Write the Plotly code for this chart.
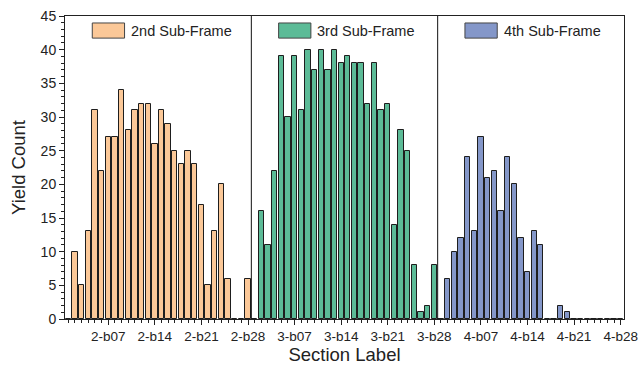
import plotly.graph_objects as go

# Yield counts per section, b01..b28 for each sub-frame
frame_names = ["2nd Sub-Frame", "3rd Sub-Frame", "4th Sub-Frame"]
frame_prefix = ["2", "3", "4"]
yield_2nd = [0, 10, 5, 13, 31, 22, 27, 27, 34, 28, 31, 32, 32, 26, 31, 29, 25, 23, 25, 23,
             17, 5, 13, 20, 6, 0, 0, 6]
yield_3rd = [0, 16, 11, 22, 39, 30, 39, 31, 40, 37, 40, 37, 40, 38, 39, 38, 38, 32, 38, 31,
             32, 14, 28, 25, 8, 1, 2, 8]
yield_4th = [0, 6, 10, 12, 24, 13, 27, 21, 22, 16, 24, 20, 12, 7, 13, 11, 0, 0, 2, 1,
             0, 0, 0, 0, 0, 0, 0, 0]
fill_colors = ["#FBC898", "#5CBB97", "#8497C9"]
labeled_sections = [7, 14, 21, 28]

series = [yield_2nd, yield_3rd, yield_4th]
n_sec = 28

# Section labels along one continuous axis
section_labels = [f"{p}-b{i:02d}" for p in frame_prefix for i in range(1, n_sec + 1)]

FONT = "Liberation Sans, Arial, sans-serif"
fig = go.Figure()

for k, (name, vals, col) in enumerate(zip(frame_names, series, fill_colors)):
    xs = [section_labels.index(f"{frame_prefix[k]}-b{i:02d}") for i in range(1, n_sec + 1)]
    fig.add_trace(go.Bar(
        x=xs, y=vals, name=name, width=0.8,
        marker=dict(color=col, line=dict(color="#1e1e1e", width=1)),
        showlegend=False,
    ))

tick_vals = [section_labels.index(f"{p}-b{i:02d}") for p in frame_prefix for i in labeled_sections]
tick_text = [section_labels[v] for v in tick_vals]

# Frame separators and legend keys
for k in range(len(frame_names)):
    base = k * n_sec
    if k > 0:
        fig.add_shape(type="line", x0=base - 0.5, x1=base - 0.5, y0=0, y1=1,
                      xref="x", yref="paper", line=dict(color="#111", width=1))
    fig.add_shape(type="rect", x0=base + 3.6, x1=base + 8.45, y0=0.927, y1=0.977,
                  xref="x", yref="paper", fillcolor=fill_colors[k],
                  line=dict(color="#444", width=1))
    fig.add_annotation(x=base + 9.1, y=0.952, xref="x", yref="paper",
                       text=frame_names[k], showarrow=False, xanchor="left",
                       yanchor="middle", font=dict(family=FONT, size=14.5, color="#222"))

fig.update_layout(
    width=640, height=365,
    margin=dict(l=65, r=16, t=16, b=46),
    paper_bgcolor="white", plot_bgcolor="white",
    bargap=0,
    font=dict(family=FONT, color="#222"),
    xaxis=dict(
        range=[-0.5, 3 * n_sec - 0.5],
        automargin=False,
        tickmode="array", tickvals=tick_vals, ticktext=tick_text,
        ticklabeloverflow="allow",
        ticks="outside", ticklen=5, tickwidth=1, tickcolor="#222",
        minor=dict(tickmode="linear", tick0=0, dtick=1, ticks="outside",
                   ticklen=3, tickwidth=1, tickcolor="#222"),
        showline=True, linecolor="#222", linewidth=1, mirror=True,
        showgrid=False, zeroline=False,
        tickfont=dict(family=FONT, size=13.5, color="#222"),
        title=dict(text="Section Label", font=dict(family=FONT, size=18.5, color="#222"),
                   standoff=3),
    ),
    yaxis=dict(
        range=[0, 45], tickmode="linear", tick0=0, dtick=5,
        automargin=False,
        ticks="outside", ticklen=5, tickwidth=1, tickcolor="#222",
        minor=dict(tickmode="linear", tick0=0, dtick=1, ticks="outside",
                   ticklen=3, tickwidth=1, tickcolor="#222"),
        showline=True, linecolor="#222", linewidth=1, mirror=True,
        showgrid=False, zeroline=False,
        tickfont=dict(family=FONT, size=14, color="#222"),
        title=dict(text="Yield Count", font=dict(family=FONT, size=18.5, color="#222"),
                   standoff=10),
    ),
)

fig.write_html("out.html")
